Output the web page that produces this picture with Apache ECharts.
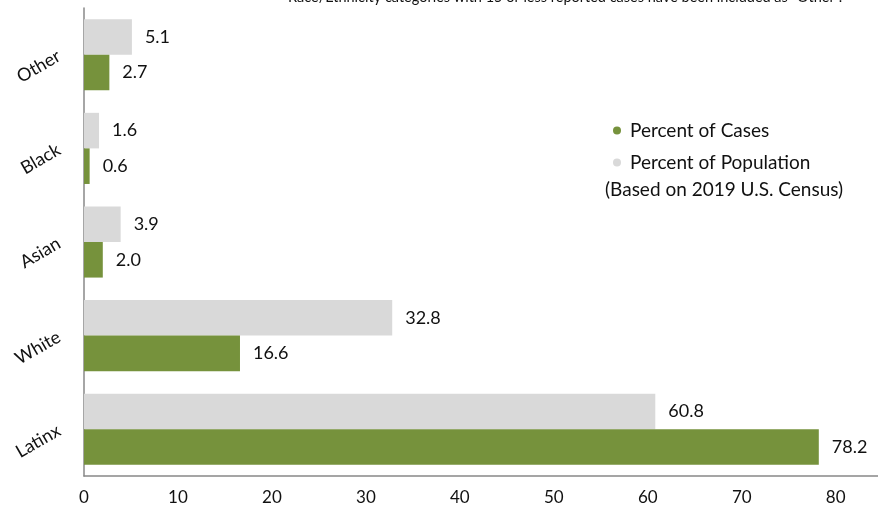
<!DOCTYPE html>
<html><head><meta charset="utf-8">
<script src="https://cdn.jsdelivr.net/npm/echarts@6/dist/echarts.min.js"></script>
<style>html,body{margin:0;padding:0;background:#fff}#c{width:878px;height:510px}</style>
</head><body><div id="c"></div>
<script>
const categories = ['Latinx', 'White', 'Asian', 'Black', 'Other'];
const percentOfCases = [78.2, 16.6, 2.0, 0.6, 2.7];
const percentOfPopulation = [60.8, 32.8, 3.9, 1.6, 5.1];
const xTicks = [0, 10, 20, 30, 40, 50, 60, 70, 80];
const noteText = 'Race/Ethnicity categories with 15 or less reported cases have been included as "Other".';
const censusNote = '(Based on 2019 U.S. Census)';

const FONT = 'Lato';
const chart = echarts.init(document.getElementById('c'));
chart.setOption({
  animation: false,
  textStyle: { fontFamily: FONT },
  grid: { left: 84, right: 0, top: 8, bottom: 34, containLabel: false },
  legend: {
    orient: 'vertical', left: 608, top: 116, itemGap: 13,
    icon: 'circle', itemWidth: 8, itemHeight: 8,
    textStyle: { fontFamily: FONT, fontSize: 19, color: '#111', padding: [0, 0, 0, 4] },
    data: ['Percent of Cases', 'Percent of Population']
  },
  graphic: [
    { type: 'text', left: 288, top: -10, style: { text: noteText, fontFamily: FONT, fontSize: 14.5, fill: '#111' } },
    { type: 'text', left: 605, top: 180, style: { text: censusNote, fontFamily: FONT, fontSize: 19, fill: '#111' } }
  ],
  xAxis: {
    type: 'value', min: 0, max: 84.5, interval: 10,
    axisLine: { show: true, lineStyle: { color: '#888', width: 1.5 } },
    axisTick: { show: false }, splitLine: { show: false },
    axisLabel: { showMaxLabel: false, fontSize: 17, color: '#111', margin: 13, fontFamily: FONT,
      formatter: v => xTicks.includes(v) ? String(v) : '' }
  },
  yAxis: {
    type: 'category', data: categories,
    axisLine: { show: true, lineStyle: { color: '#888', width: 1.5 } },
    axisTick: { show: false },
    axisLabel: { rotate: 30, fontSize: 18, color: '#111', margin: 25, fontFamily: FONT }
  },
  series: [
    { name: 'Percent of Population', type: 'bar', data: percentOfPopulation, barGap: '0%', barCategoryGap: '24%',
      itemStyle: { color: '#D9D9D9' },
      label: { show: true, position: 'right', distance: 13, fontSize: 18, color: '#111', fontFamily: FONT,
        formatter: p => p.value.toFixed(1) } },
    { name: 'Percent of Cases', type: 'bar', data: percentOfCases, barGap: '0%', barCategoryGap: '24%',
      itemStyle: { color: '#76923C' },
      label: { show: true, position: 'right', distance: 13, fontSize: 18, color: '#111', fontFamily: FONT,
        formatter: p => p.value.toFixed(1) } }
  ]
});
</script></body></html>
